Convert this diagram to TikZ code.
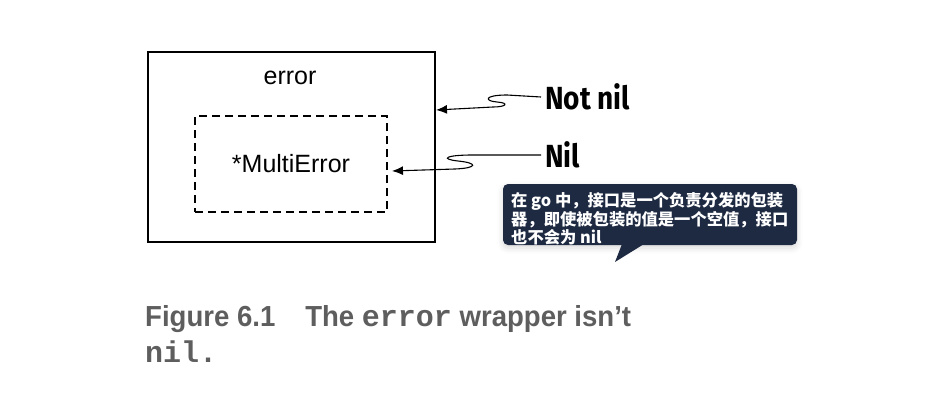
\documentclass[tikz,border=0pt]{standalone}
\usepackage{fontspec}
\setmainfont{Liberation Sans}
\setmonofont{Liberation Mono}
\newfontfamily\tagfont{Fira Sans}[FakeStretch=0.875]
\newfontfamily\capfont{Liberation Sans}[FakeStretch=0.95]
\newfontfamily\cjk{Noto Sans CJK SC}
\usetikzlibrary{arrows.meta,shadows.blur}
\definecolor{tipnavy}{HTML}{1E2A42}
\definecolor{capgray}{HTML}{5E5E5E}
\tikzset{
  boxtext/.style={font=\fontsize{25}{30}\selectfont},
  tagtext/.style={font=\tagfont\bfseries\fontsize{32}{36}\selectfont, anchor=west, inner xsep=4pt, inner ysep=0pt},
  squiggle/.style={line width=1.1pt, -{Latex[length=11pt,width=9pt]}},
  captext/.style={anchor=base west, inner sep=0pt, text=capgray, font=\capfont\bfseries\fontsize{29}{36}\selectfont},
}
\newcommand\capcode[1]{{\ttfamily\bfseries\fontsize{30}{36}\selectfont #1}}
\begin{document}
\begin{tikzpicture}[x=1pt,y=-1pt]
\useasboundingbox (0,0) rectangle (933,404);
% boxes
\node (errbox) at (291.5,147)[draw, line width=1.3pt, minimum width=287, minimum height=190]{};
\node (errlabel) at (290,78)[boxtext]{error};
\node (multibox) at (291,164)[draw, line width=1.3pt, dash pattern=on 8pt off 5pt, minimum width=192, minimum height=96, boxtext]{*MultiError};
% labels and wavy arrows
\node (notnil) at (541,97)[tagtext]{Not nil};
\node (nil) at (541,155)[tagtext]{Nil};
\coordinate (hit1) at (436,110);
\coordinate (hit2) at (392,171);
\draw[squiggle] (notnil.west) -- (507,95) .. controls (484,95) and (484,101) .. (497,102) .. controls (510,103) and (506,107) .. (493,107) -- (hit1);
\draw[squiggle] (nil.west) -- (473,155) .. controls (445,155) and (440,159) .. (458,161) .. controls (478,163) and (478,168) .. (455,169) -- (hit2);
% callout
\node (note) at (650,214.5)[fill=tipnavy, rounded corners=5pt, minimum width=294, minimum height=61, blur shadow={shadow xshift=0pt, shadow yshift=-3pt, shadow blur radius=6pt, shadow opacity=15}]{};
\fill[tipnavy] (622,244) -- (615,262) -- (644,244) -- cycle;
\node (notetext) at (511,192)[anchor=north west, inner sep=0pt, align=left, text=white, font=\cjk\bfseries\fontsize{16.3}{18}\selectfont]{在 go 中，接口是一个负责分发的包装\\器，即使被包装的值是一个空值，接口\\也不会为 nil};
% caption
\node (caption) at (145,326)[captext]{Figure 6.1\hspace{30pt}The \capcode{error} wrapper isn’t};
\node (caption2) at (145,362)[captext]{\capcode{nil.}};
\end{tikzpicture}
\end{document}
